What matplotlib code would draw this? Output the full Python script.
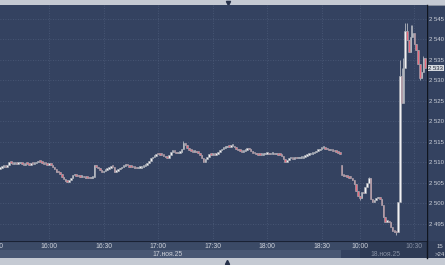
"""1-minute candle chart, two sessions (17 and 18 Nov 2025), dark terminal style."""

import matplotlib

matplotlib.use("Agg")
import matplotlib.pyplot as plt
import numpy as np
from matplotlib.patches import Rectangle
from matplotlib.ticker import FuncFormatter
from matplotlib.transforms import blended_transform_factory

# ---- data -----------------------------------------------------------------
# slot = minutes since 15:30 on 17 Nov; day 2 continues right after (09:50 = slot 191)
session1_first_slot = 3
session1_open = 2508.5
session1_close = [
    2508.7, 2508.9, 2509.2, 2509.0, 2509.4, 2510.2, 2509.9, 2509.6, 2509.8, 2509.7,
    2509.8, 2509.9, 2509.6, 2509.5, 2509.7, 2509.6, 2509.5, 2509.7, 2509.6, 2509.8,
    2510.0, 2510.2, 2510.1, 2509.9, 2509.7, 2509.6, 2509.5, 2509.7, 2509.4, 2509.0,
    2508.3, 2507.8, 2507.6, 2507.3, 2506.4, 2505.9, 2505.6, 2505.3, 2505.7, 2506.1,
    2506.9, 2507.0, 2506.8, 2506.6, 2506.5, 2506.7, 2506.4, 2506.3, 2506.2, 2506.1,
    2506.3, 2506.5, 2509.4, 2508.9, 2508.6, 2508.2, 2507.6, 2508.0, 2508.2, 2508.4,
    2508.7, 2509.0, 2508.9, 2507.8, 2508.0, 2508.3, 2508.6, 2509.0, 2509.2, 2509.4,
    2509.3, 2509.0, 2508.9, 2508.8, 2508.7, 2508.6, 2508.7, 2508.7, 2508.9, 2509.2,
    2509.5, 2509.8, 2510.4, 2511.0, 2511.4, 2511.7, 2512.1, 2512.0, 2511.9, 2511.8,
    2511.6, 2511.3, 2511.1, 2511.8, 2512.6, 2512.9, 2512.6, 2512.2, 2512.4, 2512.5,
    2513.3, 2514.8, 2514.3, 2513.5, 2513.0, 2512.8, 2512.6, 2512.7, 2512.5, 2512.4,
    2511.8, 2511.0, 2510.2, 2510.8, 2511.4, 2512.1, 2511.9, 2512.0, 2511.8, 2512.0,
    2512.5, 2513.0, 2513.3, 2513.5, 2513.7, 2513.9, 2513.8, 2514.0, 2514.0, 2513.7,
    2513.4, 2513.0, 2512.8, 2512.6, 2512.8, 2513.1, 2513.5, 2513.2, 2512.8, 2512.4,
    2512.2, 2512.0, 2511.9, 2511.8, 2511.9, 2512.0, 2512.1, 2512.2, 2512.0, 2512.1,
    2512.2, 2512.0, 2512.1, 2511.9, 2511.8, 2511.6, 2510.8, 2510.2, 2510.6, 2511.0,
    2511.0, 2510.9, 2511.1, 2511.0, 2511.0, 2511.1, 2511.2, 2511.4, 2511.6, 2511.8,
    2512.0, 2512.1, 2512.2, 2512.5, 2512.8, 2513.0, 2513.3, 2513.6, 2513.6, 2513.4,
    2513.2, 2513.0, 2513.1, 2512.9, 2512.7, 2512.6, 2512.4, 2512.1,
]
day2_first_slot = 191
day2_open = 2509.5
day2_close = [
    2507.0, 2506.8, 2506.6, 2506.5, 2506.3, 2506.2, 2505.7, 2504.8, 2503.0, 2501.8,
    2501.3, 2502.9, 2502.5, 2504.1, 2505.0, 2506.2, 2501.0, 2500.4, 2500.9, 2501.3,
    2501.6, 2501.0, 2499.6, 2496.8, 2495.6, 2495.8, 2495.4, 2494.3, 2493.3, 2493.1,
    2493.0, 2500.4, 2531.0, 2524.5, 2533.0, 2542.0, 2539.8, 2537.0, 2540.5, 2541.5,
    2539.0, 2537.5, 2534.0, 2530.6, 2532.0, 2535.5, 2533.0,
]
# wicks that stick out of the bodies (slot -> price)
wick_high = {104: 2515.2, 206: 2506.5, 223: 2535.0, 224: 2533.0, 225: 2535.5,
             226: 2544.1, 227: 2544.0, 229: 2543.5, 230: 2543.5, 236: 2536.0}
wick_low = {201: 2500.9, 221: 2492.26, 234: 2530.0}

time_ticks = [30, 60, 90, 120, 150, 180, 201, 231]
time_labels = ["16:00", "16:30", "17:00", "17:30", "18:00", "18:30", "10:00", "10:30"]
price_ticks = [2495, 2500, 2505, 2510, 2515, 2520, 2525, 2530, 2535, 2540, 2545]
last_price = 2533
title = "VB 1M High = 2544.1 Low = 2492.26"

# ---- candles --------------------------------------------------------------
slots = np.concatenate([
    np.arange(session1_first_slot, session1_first_slot + len(session1_close)),
    np.arange(day2_first_slot, day2_first_slot + len(day2_close)),
])
closes = np.array(session1_close + day2_close)
opens = np.concatenate([[session1_open], session1_close[:-1], [day2_open], day2_close[:-1]])
body_lo = np.minimum(opens, closes)
highs = np.maximum(opens, closes)
lows = body_lo.copy()
for s, v in wick_high.items():
    highs[slots == s] = v
for s, v in wick_low.items():
    lows[slots == s] = v
up = closes >= opens

BG = "#344260"
STRIP = "#3b4a66"
DATE = "#485773"
DARKBOX = "#2e3b55"
LIGHT = "#c5cad3"
TXT = "#cdd1d9"
DIM = "#8891a4"

fig = plt.figure(figsize=(4.45, 2.65), dpi=100)
fig.patch.set_facecolor(BG)
plt.rcParams["font.family"] = ["Liberation Sans", "DejaVu Sans"]
FS = 4.9
FS_Y = 4.3

# background axes in pixel coordinates (0,0 = top left)
bg = fig.add_axes([0, 0, 1, 1], zorder=0)
bg.set_xlim(0, 445)
bg.set_ylim(265, 0)
bg.axis("off")
for x0, y0, w, h, c in [
    (0, 0, 445, 5, LIGHT),
    (0, 241, 445, 9, STRIP),
    (0, 250, 341, 8, DATE),
    (360, 241, 67, 17, DARKBOX),
    (427, 241, 18, 17, "#303d59"),
    (0, 258, 445, 7, LIGHT),
]:
    bg.add_patch(Rectangle((x0, y0), w, h, facecolor=c, edgecolor="none"))
bg.plot([0, 445], [5, 5], color="#9aa1ad", lw=0.6)
bg.plot([0, 427], [241, 241], color="#1a2234", lw=0.8)
bg.plot([427, 427], [5, 258], color="#10151f", lw=1.0)
bg.plot([228], [2.6], marker="v", ms=3, color="#26314a")
bg.plot([227], [261.6], marker="^", ms=3, color="#26314a")
bg.text(1, 10, title, fontsize=FS, color=TXT, va="center", ha="left")
bg.text(437, 246, "15", fontsize=FS_Y, color=TXT, va="center", ha="left")
bg.text(435, 254.5, ">24", fontsize=FS_Y, color=TXT, va="center", ha="left")

# price axes
ax = fig.add_axes([0, 1 - 241 / 265, 427 / 445, 236 / 265], zorder=1)
ax.set_facecolor(BG)
ax.vlines(slots, lows, highs, color="#b4b8c0", lw=0.6, zorder=2)
body_h = np.maximum(np.abs(closes - opens), 0.4)
ax.bar(slots[up], body_h[up], bottom=body_lo[up],
       width=0.85, color="#f2f2f4", edgecolor="#a3a8b1", lw=0.45, zorder=3)
ax.bar(slots[~up], body_h[~up], bottom=body_lo[~up],
       width=0.85, color="#ea6a7d", edgecolor="#a3a8b1", lw=0.45, zorder=3)

ax.set_xlim(3.03, 238.0)
ax.set_ylim(2490.85, 2548.41)
for sp in ax.spines.values():
    sp.set_visible(False)

ax.set_xticks(time_ticks)
ax.set_xticklabels(time_labels)
ax.tick_params(axis="x", length=0, pad=1.4, labelsize=FS, labelcolor=TXT)
ax.get_xticklabels()[-1].set_color(DIM)

ax.yaxis.tick_right()
ax.set_yticks(price_ticks)
ax.yaxis.set_major_formatter(FuncFormatter(lambda v, _: f"{int(v) // 1000} {int(v) % 1000:03d}"))
ax.tick_params(axis="y", length=0, pad=1.6, labelsize=FS_Y, labelcolor=TXT)

ax.grid(True, color="#4d5c7a", lw=0.6, ls=(0, (1, 2)))
ax.set_axisbelow(True)

# cut-off first label and the date row
xpix = blended_transform_factory(ax.transData, bg.transData)
ax.text(0, 246, "15:30", transform=xpix, fontsize=FS, color=TXT, ha="center", va="center",
        clip_on=False)
ax.text(95, 254.5, "17.ноя.25", transform=xpix, fontsize=FS, color=TXT, ha="center",
        va="center", clip_on=False)
ax.text(215, 254.5, "18.ноя.25", transform=xpix, fontsize=FS, color=DIM, ha="center",
        va="center", clip_on=False)

# last price marker on the price scale
ax.text(1.003, last_price, "2 533", transform=blended_transform_factory(ax.transAxes, ax.transData),
        fontsize=FS_Y, color="#1e2638", va="center", ha="left", clip_on=False,
        bbox=dict(boxstyle="square,pad=0.12", fc="#d6d9df", ec="none"))

fig.savefig("out.png", dpi=100, facecolor=fig.get_facecolor())
